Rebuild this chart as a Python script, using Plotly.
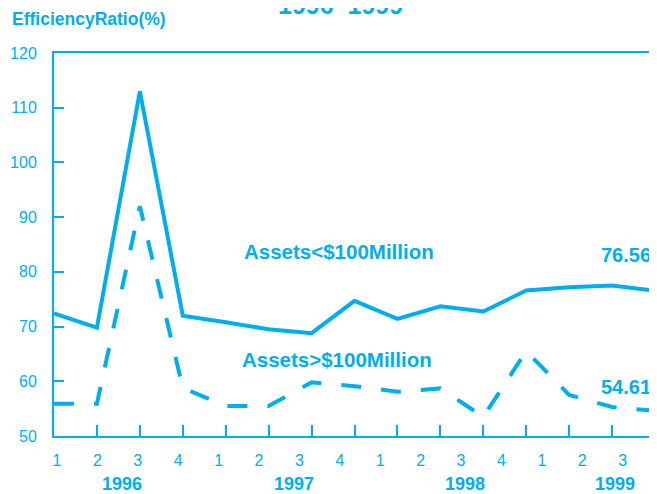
import plotly.graph_objects as go

quarter_labels = ["1", "2", "3", "4", "1", "2", "3", "4", "1", "2", "3", "4", "1", "2", "3"]
years = ["1996", "1997", "1998", "1999"]
year_pos = [1.59, 5.6, 9.58, 13.07]
small_banks = [72.4, 69.8, 113.0, 72.0, 70.8, 69.5, 68.8, 74.7, 71.4, 73.7, 72.75, 76.6, 77.2, 77.5, 76.56]
large_banks = [55.9, 55.9, 92.0, 58.8, 55.5, 55.5, 59.8, 59.1, 58.1, 58.7, 53.5, 65.5, 57.5, 55.3, 54.61]
x = list(range(len(quarter_labels)))

C = "#00AEEF"
FONT = "Liberation Sans, Arial, sans-serif"

fig = go.Figure()
fig.add_trace(go.Scatter(x=x, y=small_banks, mode="lines",
                         line=dict(color=C, width=4), showlegend=False, hoverinfo="skip"))
fig.add_trace(go.Scatter(x=x, y=large_banks, mode="lines",
                         line=dict(color=C, width=4, dash="20px,20px"), showlegend=False, hoverinfo="skip"))
# dummy trace to carry the quarter-label axis
fig.add_trace(go.Scatter(x=[0], y=[None], xaxis="x2", mode="lines", showlegend=False, hoverinfo="skip"))

fig.update_layout(
    width=657, height=494,
    margin=dict(l=46, r=10, t=45, b=66),
    paper_bgcolor="white", plot_bgcolor="white",
    font=dict(family=FONT, color=C, size=16),
    xaxis=dict(range=[0, 14], showline=True, mirror=True, linecolor=C, linewidth=2,
               tickvals=x, showticklabels=False, ticks="inside", ticklen=11,
               tickcolor=C, tickwidth=1.5, showgrid=False, zeroline=False, automargin=False),
    xaxis2=dict(overlaying="x", anchor="y", side="bottom", range=[-0.074, 14.80],
                tickvals=x, ticktext=quarter_labels, showline=False, ticks="",
                showgrid=False, zeroline=False, tickfont=dict(size=16, color=C),
                ticklabelstandoff=13, automargin=False),
    yaxis=dict(range=[50, 120], showline=True, mirror=True, linecolor=C, linewidth=2,
               tickvals=[50, 60, 70, 80, 90, 100, 110, 120], ticks="inside", ticklen=10,
               tickcolor=C, tickwidth=1.5, showgrid=False, zeroline=False,
               tickfont=dict(size=16, color=C), ticklabelstandoff=12, automargin=False),
)

ann = []
ann.append(dict(text="<b>1996–1999</b>", xref="paper", yref="paper", x=0.476, y=1.125,
                xanchor="center", yanchor="middle", showarrow=False, font=dict(size=25, color=C)))
ann.append(dict(text="<b>EfficiencyRatio(%)</b>", xref="paper", yref="paper", x=-0.0732, y=1.090,
                xanchor="left", yanchor="middle", showarrow=False, font=dict(size=17.5, color=C)))
ann.append(dict(text="<b>Assets<$100Million</b>", xref="x", yref="y", x=4.37, y=83.7,
                xanchor="left", yanchor="middle", showarrow=False, font=dict(size=20.5, color=C)))
ann.append(dict(text="<b>Assets>$100Million</b>", xref="x", yref="y", x=4.33, y=63.9,
                xanchor="left", yanchor="middle", showarrow=False, font=dict(size=20.5, color=C)))
ann.append(dict(text="<b>%.2f</b>" % small_banks[-1], xref="x", yref="y", x=x[-1], y=83.1,
                xanchor="right", yanchor="middle", xshift=-2, showarrow=False, font=dict(size=20, color=C)))
ann.append(dict(text="<b>%.2f</b>" % large_banks[-1], xref="x", yref="y", x=x[-1], y=58.9,
                xanchor="right", yanchor="middle", xshift=-2, showarrow=False, font=dict(size=20, color=C)))
for yr, p in zip(years, year_pos):
    ann.append(dict(text="<b>%s</b>" % yr, xref="x", yref="paper", x=p, y=-0.126,
                    xanchor="center", yanchor="middle", showarrow=False, font=dict(size=18, color=C)))
fig.update_layout(annotations=ann)

fig.write_html("out.html")
